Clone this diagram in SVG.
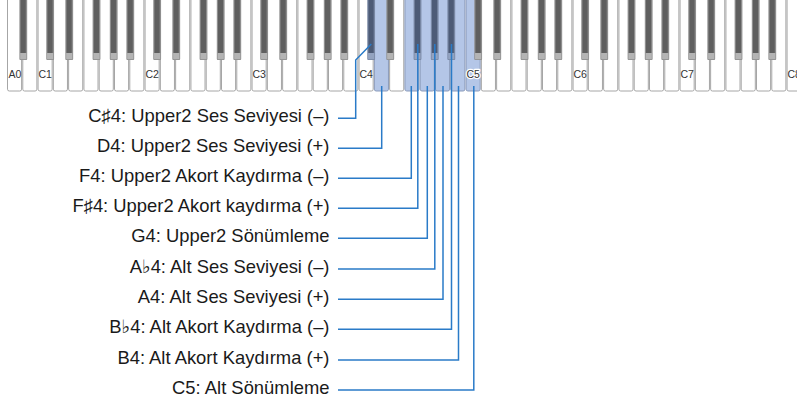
<svg xmlns="http://www.w3.org/2000/svg" xmlns:xlink="http://www.w3.org/1999/xlink" width="797" height="404" viewBox="0 0 797 404">
<style>
.w{fill:#ffffff;stroke:#a6a6a6;stroke-width:1}
.wh{fill:#b4c6e7;stroke:#8a9bbb;stroke-width:1}
.kl{font-family:"Liberation Sans",Arial,sans-serif;font-size:10.5px;fill:#333}
.kh{paint-order:stroke;stroke:#fff;stroke-width:2.5px;stroke-linejoin:round}
.lb{font-family:"Liberation Sans",Arial,"DejaVu Sans",sans-serif;font-size:18.4px;fill:#1a1a1a;text-anchor:end}
.cn{fill:none;stroke:#2a7bc8;stroke-width:1.5}
</style>
<defs>
<rect id="wk" y="-3" width="14.1" height="94" rx="1.8"/>
<g id="bk">
<rect x="0" y="-2" width="7.8" height="62" rx="1" fill="#8e8e8e"/>
<rect x="1.2" y="-2" width="5.2" height="55" fill="#5f5f5f"/>
<rect x="0.8" y="53" width="6.2" height="6.2" fill="#b4b4b4"/>
</g>
<g id="bkh">
<rect x="0" y="-2" width="7.8" height="62" rx="1" fill="#7887a3"/>
<rect x="1.2" y="-2" width="5.2" height="55" fill="#4d5b76"/>
<rect x="0.8" y="53" width="6.2" height="6.2" fill="#93a3c0"/>
</g>
</defs>
<rect width="797" height="404" fill="#ffffff"/>
<g id="keyboard">
<g id="white-keys">
<use xlink:href="#wk" href="#wk" class="w" x="7.5"/>
<use xlink:href="#wk" href="#wk" class="w" x="22.79"/>
<use xlink:href="#wk" href="#wk" class="w" x="38.07"/>
<use xlink:href="#wk" href="#wk" class="w" x="53.36"/>
<use xlink:href="#wk" href="#wk" class="w" x="68.64"/>
<use xlink:href="#wk" href="#wk" class="w" x="83.93"/>
<use xlink:href="#wk" href="#wk" class="w" x="99.21"/>
<use xlink:href="#wk" href="#wk" class="w" x="114.5"/>
<use xlink:href="#wk" href="#wk" class="w" x="129.79"/>
<use xlink:href="#wk" href="#wk" class="w" x="145.07"/>
<use xlink:href="#wk" href="#wk" class="w" x="160.36"/>
<use xlink:href="#wk" href="#wk" class="w" x="175.64"/>
<use xlink:href="#wk" href="#wk" class="w" x="190.93"/>
<use xlink:href="#wk" href="#wk" class="w" x="206.21"/>
<use xlink:href="#wk" href="#wk" class="w" x="221.5"/>
<use xlink:href="#wk" href="#wk" class="w" x="236.79"/>
<use xlink:href="#wk" href="#wk" class="w" x="252.07"/>
<use xlink:href="#wk" href="#wk" class="w" x="267.36"/>
<use xlink:href="#wk" href="#wk" class="w" x="282.64"/>
<use xlink:href="#wk" href="#wk" class="w" x="297.93"/>
<use xlink:href="#wk" href="#wk" class="w" x="313.21"/>
<use xlink:href="#wk" href="#wk" class="w" x="328.5"/>
<use xlink:href="#wk" href="#wk" class="w" x="343.79"/>
<use xlink:href="#wk" href="#wk" class="w" x="359.07"/>
<use xlink:href="#wk" href="#wk" class="wh" x="374.36"/>
<use xlink:href="#wk" href="#wk" class="w" x="389.64"/>
<use xlink:href="#wk" href="#wk" class="wh" x="404.93"/>
<use xlink:href="#wk" href="#wk" class="wh" x="420.21"/>
<use xlink:href="#wk" href="#wk" class="wh" x="435.5"/>
<use xlink:href="#wk" href="#wk" class="wh" x="450.79"/>
<use xlink:href="#wk" href="#wk" class="wh" x="466.07"/>
<use xlink:href="#wk" href="#wk" class="w" x="481.36"/>
<use xlink:href="#wk" href="#wk" class="w" x="496.64"/>
<use xlink:href="#wk" href="#wk" class="w" x="511.93"/>
<use xlink:href="#wk" href="#wk" class="w" x="527.21"/>
<use xlink:href="#wk" href="#wk" class="w" x="542.5"/>
<use xlink:href="#wk" href="#wk" class="w" x="557.79"/>
<use xlink:href="#wk" href="#wk" class="w" x="573.07"/>
<use xlink:href="#wk" href="#wk" class="w" x="588.36"/>
<use xlink:href="#wk" href="#wk" class="w" x="603.64"/>
<use xlink:href="#wk" href="#wk" class="w" x="618.93"/>
<use xlink:href="#wk" href="#wk" class="w" x="634.21"/>
<use xlink:href="#wk" href="#wk" class="w" x="649.5"/>
<use xlink:href="#wk" href="#wk" class="w" x="664.79"/>
<use xlink:href="#wk" href="#wk" class="w" x="680.07"/>
<use xlink:href="#wk" href="#wk" class="w" x="695.36"/>
<use xlink:href="#wk" href="#wk" class="w" x="710.64"/>
<use xlink:href="#wk" href="#wk" class="w" x="725.93"/>
<use xlink:href="#wk" href="#wk" class="w" x="741.21"/>
<use xlink:href="#wk" href="#wk" class="w" x="756.5"/>
<use xlink:href="#wk" href="#wk" class="w" x="771.79"/>
<use xlink:href="#wk" href="#wk" class="w" x="787.07"/>
</g>
<g id="key-labels">
<text class="kl" x="8.5" y="78.3">A0</text>
<text class="kl" x="38.5" y="78.3">C1</text>
<text class="kl" x="145.5" y="78.3">C2</text>
<text class="kl" x="252.5" y="78.3">C3</text>
<text class="kl" x="359.5" y="78.3">C4</text>
<text class="kl kh" x="466.5" y="78.3">C5</text>
<text class="kl" x="573.5" y="78.3">C6</text>
<text class="kl" x="680.5" y="78.3">C7</text>
<text class="kl" x="787.5" y="78.3">C8</text>
</g>
<g id="black-keys">
<use xlink:href="#bk" href="#bk" x="19.39"/>
<use xlink:href="#bk" href="#bk" x="46.26"/>
<use xlink:href="#bk" href="#bk" x="65.34"/>
<use xlink:href="#bk" href="#bk" x="92.61"/>
<use xlink:href="#bk" href="#bk" x="109.8"/>
<use xlink:href="#bk" href="#bk" x="126.39"/>
<use xlink:href="#bk" href="#bk" x="153.26"/>
<use xlink:href="#bk" href="#bk" x="172.34"/>
<use xlink:href="#bk" href="#bk" x="199.61"/>
<use xlink:href="#bk" href="#bk" x="216.8"/>
<use xlink:href="#bk" href="#bk" x="233.39"/>
<use xlink:href="#bk" href="#bk" x="260.26"/>
<use xlink:href="#bk" href="#bk" x="279.34"/>
<use xlink:href="#bk" href="#bk" x="306.61"/>
<use xlink:href="#bk" href="#bk" x="323.8"/>
<use xlink:href="#bk" href="#bk" x="340.39"/>
<use xlink:href="#bkh" href="#bkh" x="367.26"/>
<use xlink:href="#bk" href="#bk" x="386.34"/>
<use xlink:href="#bkh" href="#bkh" x="413.61"/>
<use xlink:href="#bkh" href="#bkh" x="430.8"/>
<use xlink:href="#bkh" href="#bkh" x="447.39"/>
<use xlink:href="#bk" href="#bk" x="474.26"/>
<use xlink:href="#bk" href="#bk" x="493.34"/>
<use xlink:href="#bk" href="#bk" x="520.61"/>
<use xlink:href="#bk" href="#bk" x="537.8"/>
<use xlink:href="#bk" href="#bk" x="554.39"/>
<use xlink:href="#bk" href="#bk" x="581.26"/>
<use xlink:href="#bk" href="#bk" x="600.34"/>
<use xlink:href="#bk" href="#bk" x="627.61"/>
<use xlink:href="#bk" href="#bk" x="644.8"/>
<use xlink:href="#bk" href="#bk" x="661.39"/>
<use xlink:href="#bk" href="#bk" x="688.26"/>
<use xlink:href="#bk" href="#bk" x="707.34"/>
<use xlink:href="#bk" href="#bk" x="734.61"/>
<use xlink:href="#bk" href="#bk" x="751.8"/>
<use xlink:href="#bk" href="#bk" x="768.39"/>
</g>
</g>
<g id="label-cs4"><text class="lb" x="329.5" y="122.2">C♯4: Upper2 Ses Seviyesi (–)</text></g>
<g id="label-d4"><text class="lb" x="329.5" y="152.2">D4: Upper2 Ses Seviyesi (+)</text></g>
<g id="label-f4"><text class="lb" x="329.5" y="182.2">F4: Upper2 Akort Kaydırma (–)</text></g>
<g id="label-fs4"><text class="lb" x="329.5" y="212.2">F♯4: Upper2 Akort kaydırma (+)</text></g>
<g id="label-g4"><text class="lb" x="329.5" y="242.2">G4: Upper2 Sönümleme</text></g>
<g id="label-ab4"><text class="lb" x="329.5" y="272.9">A♭4: Alt Ses Seviyesi (–)</text></g>
<g id="label-a4"><text class="lb" x="329.5" y="303.2">A4: Alt Ses Seviyesi (+)</text></g>
<g id="label-bb4"><text class="lb" x="329.5" y="333.2">B♭4: Alt Akort Kaydırma (–)</text></g>
<g id="label-b4"><text class="lb" x="329.5" y="363.9">B4: Alt Akort Kaydırma (+)</text></g>
<g id="label-c5"><text class="lb" x="329.5" y="393.9">C5: Alt Sönümleme</text></g>
<g id="connectors" class="cn">
<path d="M338 118.3H355.7V60L371.3 44"/>
<path d="M338 148.3H381.7V86"/>
<path d="M338 178.3H411.3V86"/>
<path d="M338 208.3H417.8V44"/>
<path d="M338 238.3H427.3V86"/>
<path d="M338 269H434.8V44"/>
<path d="M338 299.3H443V86"/>
<path d="M338 329.3H451.5V44"/>
<path d="M338 360H458.5V86"/>
<path d="M338 390H473.8V86"/>
</g>
</svg>
